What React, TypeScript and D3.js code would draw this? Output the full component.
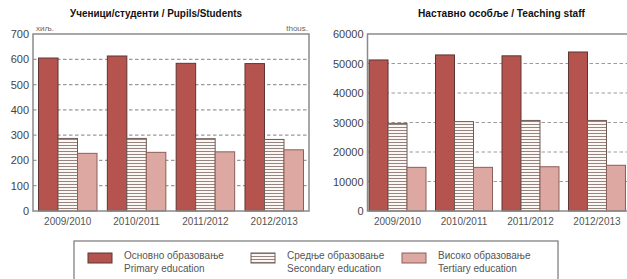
import React from "react";
import * as d3 from "d3";

const years = ["2009/2010", "2010/2011", "2011/2012", "2012/2013"];
const seriesKeys = ["primary", "secondary", "tertiary"];
const pupilsPrimary = [605, 613, 584, 583];
const pupilsSecondary = [287, 287, 286, 283];
const pupilsTertiary = [228, 232, 234, 242];
const staffPrimary = [51200, 52900, 52600, 53900];
const staffSecondary = [29700, 30300, 30700, 30700];
const staffTertiary = [14800, 14800, 15000, 15500];
const pupilsTicks = [0, 100, 200, 300, 400, 500, 600, 700];
const staffTicks = [0, 10000, 20000, 30000, 40000, 50000, 60000];
const legendCyr = ["Основно образовање", "Средње образовање", "Високо образовање"];
const legendEng = ["Primary education", "Secondary education", "Tertiary education"];

const FILL: Record<string, string> = { primary: "#b5544f", secondary: "url(#stripes)", tertiary: "#dca8a1" };
const STROKE: Record<string, string> = { primary: "#5e3533", secondary: "#6f5a55", tertiary: "#8c5f5a" };
const FONT = "'Liberation Sans', Arial, sans-serif";
const NARROW = "'Liberation Sans Narrow', 'Arial Narrow', 'Liberation Sans', sans-serif";

type PanelProps = {
  x0: number; x1: number; max: number; ticks: number[];
  data: number[][]; title: string; titleX: number; titleW: number;
  units?: boolean; pad: [number, number]; frameRight: number;
};

function Panel({ x0, x1, max, ticks, data, title, titleX, titleW, units, pad, frameRight }: PanelProps) {
  const top = 34, bottom = 211;
  const y = d3.scaleLinear().domain([0, max]).range([bottom, top]);
  const x = d3.scaleBand<string>().domain(years).range([x0, x1]).paddingInner(pad[0]).paddingOuter(pad[1]);
  const xs = d3.scaleBand<string>().domain(seriesKeys).range([0, x.bandwidth()]);
  const frameLeft = x0;
  return (
    <g>
      <text x={titleX} y={17} fontFamily={NARROW} fontWeight="bold" fontSize={11} fill="#111"
        textLength={titleW} lengthAdjust="spacingAndGlyphs">{title}</text>
      {ticks.filter(t => t > 0 && t < max).map(t => (
        <line key={t} x1={frameLeft} x2={frameRight} y1={y(t)} y2={y(t)} stroke="#9a9a9a" strokeWidth={1.2} strokeDasharray="3.5,2.5" />
      ))}
      {ticks.map(t => (
        <text key={t} x={frameLeft - 4} y={y(t) + 4} textAnchor="end" fontFamily={FONT} fontSize={11} fill="#444">{t}</text>
      ))}
      {years.map((yr, i) => (
        <g key={yr}>
          {seriesKeys.map((k, j) => (
            <rect key={k} x={(x(yr) ?? 0) + (xs(k) ?? 0)} y={y(data[j][i])} width={xs.bandwidth()}
              height={bottom - y(data[j][i])} fill={FILL[k]} stroke={STROKE[k]} strokeWidth={1} />
          ))}
          <text x={(x(yr) ?? 0) + x.bandwidth() / 2} y={225} textAnchor="middle" fontFamily={FONT} fontSize={10} fill="#555">{yr}</text>
        </g>
      ))}
      <rect x={frameLeft} y={top} width={frameRight - frameLeft} height={bottom - top} fill="none" stroke="#8a8a8a" strokeWidth={1.5} />
      {units && (
        <g fontFamily={FONT} fontSize={8} fill="#666">
          <text x={frameLeft + 3} y={31}>хиљ.</text>
          <text x={frameRight - 1} y={31} textAnchor="end">thous.</text>
        </g>
      )}
    </g>
  );
}

export default function App() {
  const legendX = [88, 251, 402];
  return (
    <svg width={627} height={279} style={{ position: "absolute", left: 0, top: 0, background: "#fff" }}>
      <defs>
        <pattern id="stripes" width={6} height={3} patternUnits="userSpaceOnUse">
          <rect width={6} height={3} fill="#fbf7f4" />
          <line x1={0} x2={6} y1={1.5} y2={1.5} stroke="#8c7770" strokeWidth={0.9} />
        </pattern>
      </defs>
      <rect width={627} height={279} fill="#fff" />
      <Panel x0={33} x1={309} max={700} ticks={pupilsTicks}
        data={[pupilsPrimary, pupilsSecondary, pupilsTertiary]}
        title="Ученици/студенти / Pupils/Students" titleX={70} titleW={172} units pad={[0.15, 0.08]} frameRight={309} />
      <Panel x0={367.5} x1={627} max={60000} ticks={staffTicks}
        data={[staffPrimary, staffSecondary, staffTertiary]}
        title="Наставно особље /  Teaching staff" titleX={418} titleW={167} pad={[0.143, 0.023]} frameRight={628} />
      <rect x={74} y={241} width={484} height={45} fill="none" stroke="#777" strokeWidth={1.2} />
      {seriesKeys.map((k, i) => (
        <g key={k}>
          <rect x={legendX[i]} y={253} width={24} height={10} fill={FILL[k]} stroke={STROKE[k]} strokeWidth={1} />
          <text x={legendX[i] + 36} y={259} fontFamily={FONT} fontSize={10} fill="#555">{legendCyr[i]}</text>
          <text x={legendX[i] + 36} y={272} fontFamily={FONT} fontSize={10} fill="#555">{legendEng[i]}</text>
        </g>
      ))}
    </svg>
  );
}
